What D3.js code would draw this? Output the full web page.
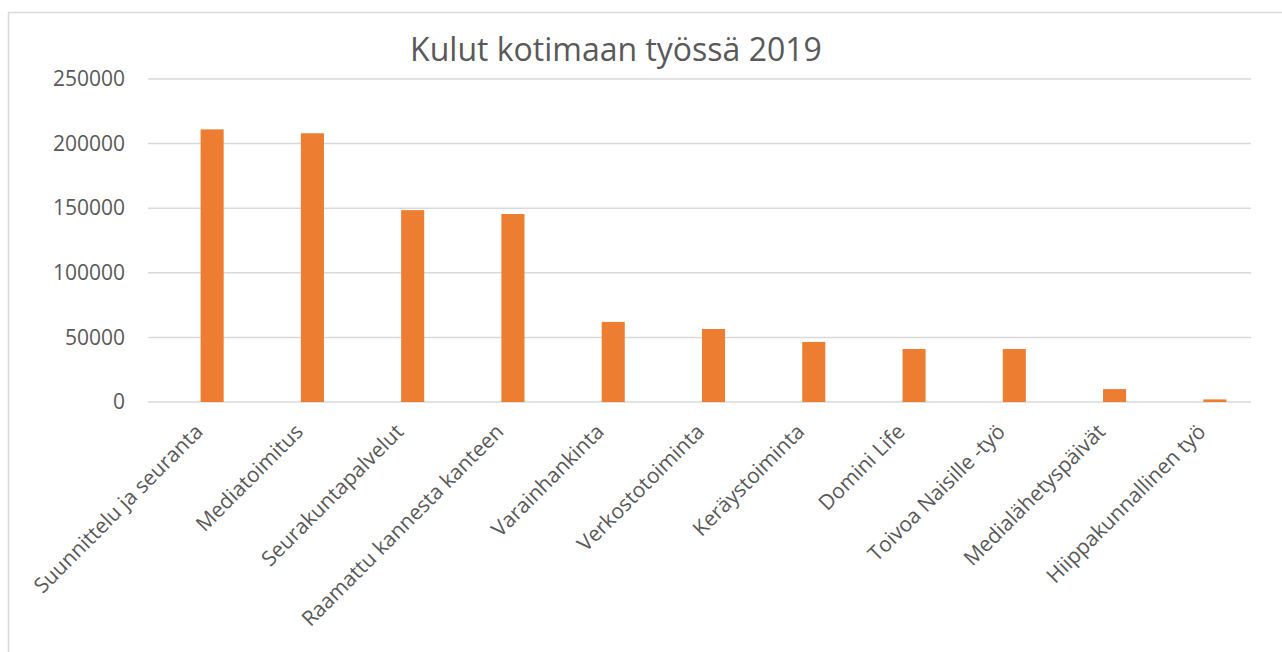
<!DOCTYPE html>
<html>
<head>
<meta charset="utf-8">
<script src="https://cdn.jsdelivr.net/npm/d3@7"></script>
<style>
  body { margin: 0; background: #fff; }
  svg { display: block; }
  text { font-family: "Open Sans", sans-serif; fill: #595959; }
</style>
</head>
<body>
<div id="chart"></div>
<script>
// Chart data
const categories = [
    'Suunnittelu ja seuranta', 'Mediatoimitus', 'Seurakuntapalvelut',
    'Raamattu kannesta kanteen', 'Varainhankinta', 'Verkostotoiminta',
    'Keräystoiminta', 'Domini Life', 'Toivoa Naisille -työ',
    'Medialähetyspäivät', 'Hiippakunnallinen työ'
];
const values = [211000, 208000, 148500, 145500, 62000, 56500, 46500, 41000, 41000, 10000, 2000];
const yTicks = [0, 50000, 100000, 150000, 200000, 250000];
const title = 'Kulut kotimaan työssä 2019';

const width = 1282, height = 652;
const plot = { left: 148, right: 1251, top: 79, bottom: 402 };

const svg = d3.select('#chart')
    .append('svg')
    .attr('width', width)
    .attr('height', height);

// Chart frame
svg.append('rect')
    .attr('x', 8.5).attr('y', 12.5)
    .attr('width', width + 20).attr('height', height + 20)
    .attr('fill', 'none')
    .attr('stroke', '#d9d9d9')
    .attr('stroke-width', 1.5);

// Band range sits a little right of the gridlines, as in the original
const x = d3.scaleBand()
    .domain(categories)
    .range([plot.left + 14, plot.right + 14])
    .paddingInner(0.77)
    .paddingOuter(0.385);

const y = d3.scaleLinear()
    .domain([0, 250000])
    .range([plot.bottom, plot.top]);

// Gridlines
svg.append('g')
    .selectAll('line')
    .data(yTicks)
    .enter().append('line')
    .attr('x1', plot.left)
    .attr('x2', plot.right)
    .attr('y1', d => y(d))
    .attr('y2', d => y(d))
    .attr('stroke', '#d9d9d9')
    .attr('stroke-width', 1.5);

// Y axis labels
const yAxis = d3.axisLeft(y).tickValues(yTicks).tickSize(0).tickPadding(0).tickFormat(d3.format('d'));
const yg = svg.append('g')
    .attr('transform', `translate(${plot.left - 23},0)`)
    .call(yAxis);
yg.select('.domain').remove();
yg.selectAll('text')
    .attr('font-size', '21px')
    .attr('font-family', '"Open Sans", sans-serif')
    .attr('fill', '#595959');

// Bars
svg.append('g')
    .selectAll('rect')
    .data(values)
    .enter().append('rect')
    .attr('x', (d, i) => x(categories[i]))
    .attr('y', d => y(d))
    .attr('width', x.bandwidth())
    .attr('height', d => y(0) - y(d))
    .attr('fill', '#ed7d31');

// Category labels
const xAxis = d3.axisBottom(x).tickSize(0).tickPadding(0);
const xg = svg.append('g')
    .attr('transform', `translate(0,${plot.bottom})`)
    .call(xAxis);
xg.select('.domain').remove();
xg.selectAll('text')
    .attr('font-size', '21px')
    .attr('font-family', '"Open Sans", sans-serif')
    .attr('fill', '#595959')
    .attr('text-anchor', 'end')
    .attr('dy', null)
    .attr('y', 0)
    .attr('transform', 'translate(-8,31) rotate(-45)');

// Title
svg.append('text')
    .attr('x', 616)
    .attr('y', 61)
    .attr('text-anchor', 'middle')
    .attr('font-size', '32px')
    .text(title);
</script>
</body>
</html>
